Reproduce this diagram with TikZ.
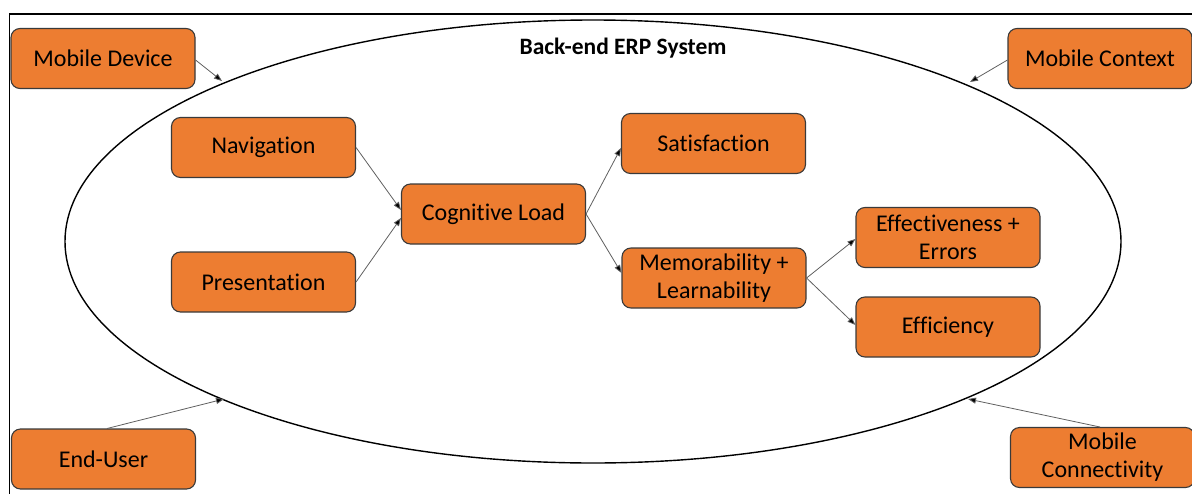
\documentclass[tikz,border=0pt]{standalone}
\usepackage{fontspec}
\setmainfont{Carlito}[Ligatures=NoCommon]
\usetikzlibrary{arrows.meta}
\definecolor{boxorange}{HTML}{ED7D31}
\definecolor{boxedge}{HTML}{3A3A3A}
\definecolor{linkgray}{HTML}{606060}
\begin{document}
\begin{tikzpicture}[x=1pt,y=-1pt,
  fbox/.style={draw=boxedge, line width=1.1pt, fill=boxorange, rounded corners=9pt,
    minimum width=184pt, minimum height=60pt, align=center, inner sep=2pt,
    font=\fontsize{24}{28}\selectfont},
  link/.style={draw=linkgray, line width=0.8pt, -{Triangle[length=8pt,width=6pt,fill=black]}}]
\useasboundingbox (0,0) rectangle (1192,493);
% frame (cropped)
\draw[line width=1.6pt] (9.5,500) -- (9.5,14) -- (1200,14);
% ellipse
\draw[line width=1.4pt] (593,241.5) ellipse [x radius=528, y radius=221.5];
\node[font=\bfseries\fontsize{23.5}{27}\selectfont] (title) at (623,48) {Back-end ERP System};
% outer boxes
\node[fbox] (md) at (103,58.5) {Mobile Device};
\node[fbox] (mc) at (1100,58.5) {Mobile Context};
\node[fbox] (eu) at (103.5,459) {End-User};
\node[fbox] (conn) at (1102.5,457.5) {Mobile\\Connectivity};
% inner boxes
\node[fbox] (nav) at (263.5,147.5) {Navigation};
\node[fbox] (pres) at (263.5,282) {Presentation};
\node[fbox] (cog) at (493.5,214) {Cognitive Load};
\node[fbox] (sat) at (713.5,143.5) {Satisfaction};
\node[fbox] (mem) at (714,278) {Memorability +\\Learnability};
\node[fbox] (eff) at (948,237.5) {Effectiveness +\\Errors};
\node[fbox] (effi) at (948,327) {Efficiency};
% ellipse points
\coordinate (e1) at (222,81);
\coordinate (e2) at (970,82);
\coordinate (e3) at (224,399);
\coordinate (e4) at (968,399);
\draw[link] (md.east |- 0,60) -- (e1);
\draw[link] (mc.west |- 0,60) -- (e2);
\draw[link] (107,428.5) -- (e3);
\draw[link] (1100,427) -- (e4);
\draw[link] (nav.east) -- (cog.west |- 0,210);
\draw[link] (pres.east) -- (cog.west |- 0,218);
\draw[link] (cog.east) -- (sat.west |- 0,148);
\draw[link] (cog.east) -- (mem.west |- 0,273);
\draw[link] (mem.east) -- (eff.west |- 0,239);
\draw[link] (mem.east) -- (effi.west |- 0,325);
\end{tikzpicture}
\end{document}
